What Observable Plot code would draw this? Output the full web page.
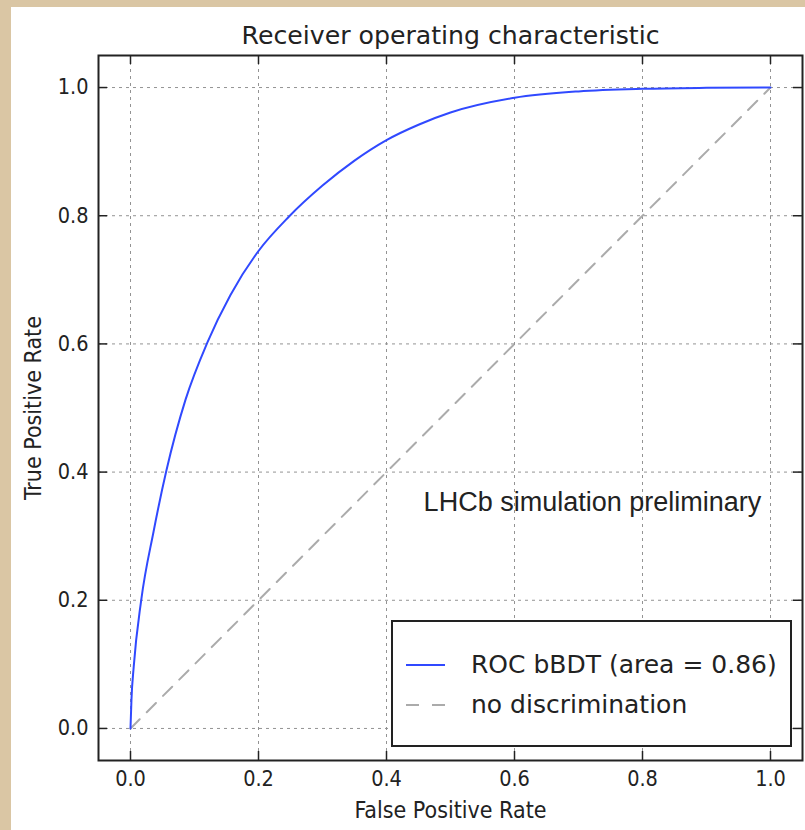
<!DOCTYPE html>
<html>
<head>
<meta charset="utf-8">
<script src="https://cdn.jsdelivr.net/npm/d3@7"></script>
<script src="https://cdn.jsdelivr.net/npm/@observablehq/plot@0.6"></script>
<style>
  html, body { margin: 0; padding: 0; }
  body { width: 805px; height: 830px; background: #dac6a4; position: relative; overflow: hidden; }
  #chart { position: absolute; left: 11px; top: 7px; }
  #legend { position: absolute; left: 391px; top: 620px; width: 401px; height: 127px; box-sizing: border-box;
            border: 2px solid #222; background: #fff; font-family: "DejaVu Sans", sans-serif; font-size: 25px; color: #222; }
  .row { position: absolute; left: 0; height: 30px; line-height: 30px; white-space: nowrap; }
  .row svg { position: absolute; left: 13px; top: 0; }
  .row span { position: absolute; left: 78px; top: 0; }
</style>
</head>
<body>
<div id="chart"></div>
<div id="legend"></div>
<script>
// ---- data ----
const fpr = [0, 0.0015, 0.005, 0.0167, 0.036, 0.056, 0.086, 0.12, 0.156, 0.2, 0.247, 0.3, 0.35, 0.4, 0.45, 0.5, 0.6, 0.7, 0.8, 0.9, 1.0];
const tpr = [0, 0.045, 0.096, 0.2, 0.307, 0.402, 0.513, 0.602, 0.676, 0.745, 0.798, 0.847, 0.886, 0.918, 0.942, 0.961, 0.984, 0.994, 0.998, 0.9995, 1.0];
const diagX = [0, 1];
const diagY = [0, 1];
const xTicks = [0, 0.2, 0.4, 0.6, 0.8, 1.0];
const yTicks = [0, 0.2, 0.4, 0.6, 0.8, 1.0];
const titleText = "Receiver operating characteristic";
const xLabel = "False Positive Rate";
const yLabel = "True Positive Rate";
const noteText = ["LHCb simulation preliminary"];
const noteX = [0.458];
const noteY = [0.34];
const legendLabels = ["ROC bBDT (area = 0.86)", "no discrimination"];

const roc = fpr.map((x, i) => ({x, y: tpr[i]}));
const diag = diagX.map((x, i) => ({x, y: diagY[i]}));
const notes = noteText.map((t, i) => ({t, x: noteX[i], y: noteY[i]}));

const W = 794, H = 823;
const mL = 87, mR = 3, mT = 48, mB = 70;
const fw = W - mL - mR, fh = H - mT - mB;
const tickLen = 9;
const blue = "#3049ff";
const gray = "#ababab";
const ink = "#222";
const tickFont = "'DejaVu Sans Condensed', 'DejaVu Sans', sans-serif";

const chart = Plot.plot({
  width: W, height: H,
  marginLeft: mL, marginRight: mR, marginTop: mT, marginBottom: mB,
  style: {background: "#fff", fontFamily: tickFont, fontSize: "21.5px", color: ink},
  x: {domain: [-0.05, 1.05]},
  y: {domain: [-0.05, 1.05]},
  marks: [
    Plot.ruleX(xTicks, {x: d => d, stroke: "#939393", strokeDasharray: "3,4", strokeWidth: 1}),
    Plot.ruleY(yTicks, {y: d => d, stroke: "#939393", strokeDasharray: "3,4", strokeWidth: 1}),
    Plot.line(diag, {x: "x", y: "y", stroke: gray, strokeWidth: 2, strokeDasharray: "13,10"}),
    Plot.line(roc, {x: "x", y: "y", stroke: blue, strokeWidth: 2, curve: "monotone-x"}),
    // inward ticks on all four sides
    Plot.tickX(xTicks, {x: d => d, insetTop: fh - tickLen, stroke: ink, strokeWidth: 1.5}),
    Plot.tickX(xTicks, {x: d => d, insetBottom: fh - tickLen, stroke: ink, strokeWidth: 1.5}),
    Plot.tickY(yTicks, {y: d => d, insetRight: fw - tickLen, stroke: ink, strokeWidth: 1.5}),
    Plot.tickY(yTicks, {y: d => d, insetLeft: fw - tickLen, stroke: ink, strokeWidth: 1.5}),
    Plot.axisX({ticks: xTicks, tickSize: 0, tickPadding: 10, tickFormat: d3.format(".1f"), label: null, fill: ink}),
    Plot.axisY({ticks: yTicks, tickSize: 0, tickPadding: 10, tickFormat: d3.format(".1f"), label: null, fill: ink}),
    Plot.frame({stroke: ink, strokeWidth: 2}),
    Plot.text(notes, {x: "x", y: "y", text: "t", textAnchor: "start", lineAnchor: "bottom",
      fontFamily: "'Liberation Sans', Arial, sans-serif", fontSize: 27, fill: ink}),
    Plot.text([titleText], {text: d => d, frameAnchor: "top", dy: -12, lineAnchor: "bottom",
      fontFamily: "'DejaVu Sans', sans-serif", fontSize: 25.2, fill: ink}),
    Plot.text([xLabel], {text: d => d, frameAnchor: "bottom", textAnchor: "middle", dy: 57, lineAnchor: "bottom", fontSize: 23, fill: ink}),
    Plot.text([yLabel], {text: d => d, frameAnchor: "left", textAnchor: "middle", rotate: -90, dx: -58, lineAnchor: "bottom", fontSize: 23, fill: ink})
  ]
});
// condensed face for tick labels and axis labels only
const normalTexts = new Set([titleText, ...noteText]);
chart.querySelectorAll("text").forEach(t => {
  t.style.fontStretch = normalTexts.has(t.textContent) ? "normal" : "condensed";
});
document.getElementById("chart").appendChild(chart);

// legend
const legend = document.getElementById("legend");
const swatches = [
  `<svg width="40" height="30"><line x1="0" y1="15" x2="39" y2="15" stroke="${blue}" stroke-width="2"/></svg>`,
  `<svg width="40" height="30"><line x1="0" y1="15" x2="39" y2="15" stroke="${gray}" stroke-width="2" stroke-dasharray="13,13"/></svg>`
];
const rowTops = [28, 68];
legendLabels.forEach((lab, i) => {
  const row = document.createElement("div");
  row.className = "row";
  row.style.top = rowTops[i] + "px";
  row.innerHTML = swatches[i] + `<span>${lab}</span>`;
  legend.appendChild(row);
});
</script>
</body>
</html>
